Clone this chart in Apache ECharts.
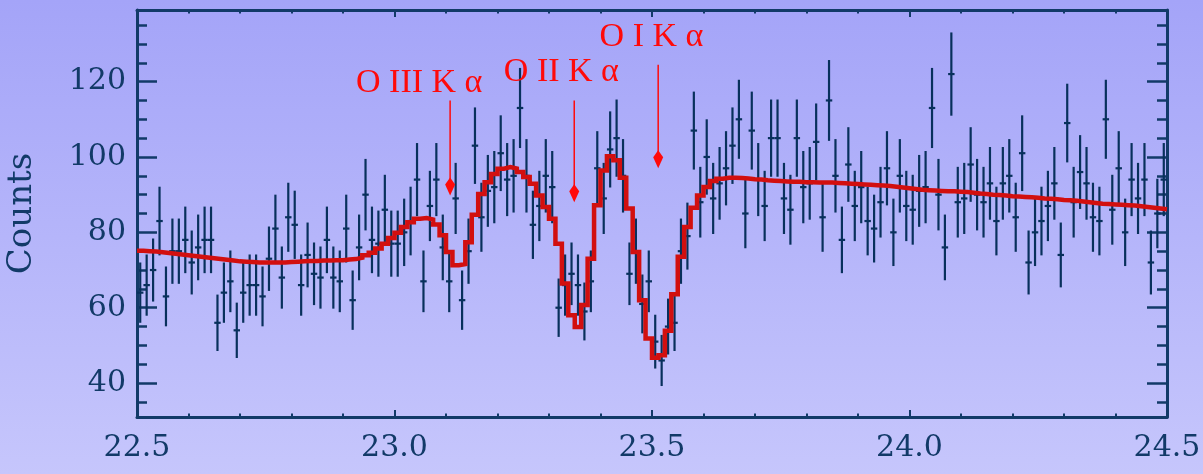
<!DOCTYPE html>
<html>
<head>
<meta charset="utf-8">
<title>O K-edge spectrum</title>
<script src="https://cdn.jsdelivr.net/npm/echarts@6/dist/echarts.min.js"></script>
<style>
  html, body { margin: 0; padding: 0; }
  #chart { width: 1203px; height: 474px; }
</style>
</head>
<body>
<div id="chart"></div>
<script>
// wavelength bins (Angstrom)
const binStart = 22.5
const binWidth = 0.0125

// observed counts per bin
const counts = [
  64, 66, 70, 83, 63, 75, 75, 78, 72, 76, 78, 78, 56, 64, 67, 54, 64, 66, 66, 63,
  73, 81, 68, 84, 82, 66, 74, 69, 68, 78, 68, 67, 81, 62, 76, 90, 78, 77, 86, 77,
  77, 80, 83, 94, 67, 87, 94, 76, 67, 89, 62, 75, 103, 84, 91, 92, 101, 94, 95, 113,
  95, 82, 87, 95, 92, 60, 66, 69, 66, 59, 67, 97, 89, 102, 105, 95, 69, 75, 61, 67,
  51, 46, 55, 56, 75, 79, 107, 88, 100, 89, 93, 97, 103, 110, 85, 107, 94, 87, 105, 105,
  89, 86, 105, 92, 93, 104, 84, 115, 95, 78, 98, 87, 92, 83, 81, 88, 97, 80, 95, 87,
  86, 91, 92, 113, 90, 76, 122, 88, 89, 98, 90, 88, 93, 83, 93, 95, 84, 101, 72, 80,
  83, 87, 93, 74, 109, 88, 96, 93, 84, 83, 110, 86, 97, 80, 94, 89, 94, 72, 85, 94,
]

// best-fit model per bin
const model = [
  75.1, 75.0, 74.9, 74.7, 74.5, 74.3, 74.1, 73.9, 73.7, 73.5, 73.3, 73.1, 72.9, 72.7, 72.5, 72.3, 72.2, 72.1, 72.0, 72.0,
  72.0, 72.0, 72.0, 72.1, 72.2, 72.3, 72.4, 72.4, 72.5, 72.5, 72.6, 72.6, 72.8, 72.9, 73.3, 73.9, 74.6, 75.7, 77.0, 78.5,
  79.9, 81.4, 82.7, 83.6, 83.8, 83.4, 82.1, 79.2, 74.8, 71.3, 71.6, 77.4, 84.7, 90.2, 93.3, 95.5, 96.9, 97.3, 96.9, 96.0,
  94.7, 92.9, 89.8, 86.7, 83.6, 77.0, 66.4, 58.0, 54.9, 60.7, 73.0, 87.2, 96.4, 100.2, 99.1, 94.5, 86.3, 74.8, 62.0, 51.8,
  46.7, 47.4, 53.9, 63.6, 73.5, 81.4, 86.5, 89.8, 92.0, 93.6, 94.2, 94.5, 94.5, 94.4, 94.3, 94.1, 94.0, 93.8, 93.7, 93.6,
  93.5, 93.4, 93.4, 93.3, 93.3, 93.2, 93.2, 93.2, 93.1, 93.0, 92.9, 92.8, 92.7, 92.6, 92.5, 92.4, 92.3, 92.1, 91.9, 91.7,
  91.5, 91.3, 91.2, 91.1, 91.0, 90.9, 90.9, 90.8, 90.7, 90.5, 90.3, 90.2, 90.0, 89.9, 89.8, 89.6, 89.5, 89.4, 89.3, 89.2,
  89.0, 88.9, 88.8, 88.6, 88.5, 88.4, 88.2, 88.0, 87.8, 87.6, 87.5, 87.4, 87.3, 87.2, 87.1, 86.9, 86.7, 86.5, 86.3, 86.1,
]

const xTickLabels = [22.5, 23.0, 23.5, 24.0, 24.5]
const yTickLabels = [40, 60, 80, 100, 120]

// absorption line markers
const lineNames = ['O III K α', 'O II K α', 'O I K α']
const lineWaves = [23.108, 23.349, 23.512]
const arrowTops = [115, 115, 124.5]
const arrowTips = [89.8, 88, 97]
const labelWaves = [23.048, 23.324, 23.499]
const labelCounts = [119.7, 122.6, 131.7]

const NAVY = '#123a68'
const BAR = '#08305c'
const MODEL_RED = '#d20f0f'
const LABEL_RED = '#ff0a0a'
const SERIF = "'DejaVu Serif', serif"

const xMinor = []
for (let k = 0; k <= 20; k++) xMinor.push(+(22.5 + k * 0.1).toFixed(1))
const yMinor = []
for (let v = 35; v <= 135; v += 5) yMinor.push(v)

const points = counts.map((c, i) => [binStart + binWidth * (i + 0.5), c])
const modelEdges = []
model.forEach((m, i) => {
  modelEdges.push([binStart + binWidth * i, m])
  modelEdges.push([binStart + binWidth * (i + 1), m])
})
const markers = lineNames.map((n, i) => [lineWaves[i], arrowTops[i], arrowTips[i], labelWaves[i], labelCounts[i]])

function xAxisOf(position, ticks, len, withLine, withLabels) {
  return {
    type: 'value', min: 22.5, max: 24.5, position,
    axisLine: { show: withLine, onZero: false, lineStyle: { color: NAVY, width: 3 } },
    axisTick: { show: true, inside: true, length: len, customValues: ticks, lineStyle: { color: NAVY, width: 2 } },
    axisLabel: withLabels
      ? { show: true, customValues: xTickLabels, formatter: v => v.toFixed(1), margin: 16,
          fontFamily: SERIF, fontSize: 30, color: NAVY }
      : { show: false },
    splitLine: { show: false },
  }
}

function yAxisOf(position, ticks, len, withLine, withLabels) {
  const ax = {
    type: 'value', min: 31, max: 139, position,
    axisLine: { show: withLine, onZero: false, lineStyle: { color: NAVY, width: 3 } },
    axisTick: { show: true, inside: true, length: len, customValues: ticks, lineStyle: { color: NAVY, width: 2.5 } },
    axisLabel: withLabels
      ? { show: true, customValues: yTickLabels, margin: 11, fontFamily: SERIF, fontSize: 30, color: NAVY }
      : { show: false },
    splitLine: { show: false },
  }
  if (withLabels) {
    Object.assign(ax, {
      name: 'Counts', nameLocation: 'middle', nameRotate: 90, nameGap: 98,
      nameTextStyle: { fontFamily: SERIF, fontSize: 34, color: NAVY },
    })
  }
  return ax
}

const chart = echarts.init(document.getElementById('chart'))
chart.setOption({
  animation: false,
  backgroundColor: {
    type: 'linear', x: 0, y: 0, x2: 0, y2: 1,
    colorStops: [{ offset: 0, color: '#a4a4f8' }, { offset: 1, color: '#c6c6fc' }],
  },
  grid: { left: 137, right: 36, top: 10, bottom: 57, containLabel: false, outerBoundsMode: 'none' },
  xAxis: [
    xAxisOf('bottom', xTickLabels, 7, true, true),
    xAxisOf('bottom', xMinor, 3.5, false, false),
    xAxisOf('top', xTickLabels, 7, true, false),
    xAxisOf('top', xMinor, 3.5, false, false),
  ],
  yAxis: [
    yAxisOf('left', yTickLabels, 20, true, true),
    yAxisOf('left', yMinor, 10, false, false),
    yAxisOf('right', yTickLabels, 20, true, false),
    yAxisOf('right', yMinor, 10, false, false),
  ],
  series: [
    {
      type: 'custom',
      name: 'data',
      z: 2,
      data: points,
      renderItem(params, api) {
        const x = api.value(0)
        const v = api.value(1)
        const err = Math.sqrt(v)
        const hi = api.coord([x, v + err])
        const lo = api.coord([x, v - err])
        const l = api.coord([x - binWidth / 2, v])
        const r = api.coord([x + binWidth / 2, v])
        const style = { stroke: BAR, lineWidth: 2.2 }
        return {
          type: 'group',
          children: [
            { type: 'line', shape: { x1: hi[0], y1: hi[1], x2: lo[0], y2: lo[1] }, style },
            { type: 'line', shape: { x1: l[0], y1: l[1], x2: r[0], y2: r[1] }, style },
          ],
        }
      },
    },
    {
      type: 'line',
      name: 'model',
      z: 3,
      data: modelEdges,
      showSymbol: false,
      symbol: 'none',
      lineStyle: { color: MODEL_RED, width: 4.5, join: 'miter' },
    },
    {
      type: 'custom',
      name: 'lines',
      z: 4,
      clip: false,
      data: markers,
      renderItem(params, api) {
        const top = api.coord([api.value(0), api.value(1)])
        const tip = api.coord([api.value(0), api.value(2)])
        const lab = api.coord([api.value(3), api.value(4)])
        const x = tip[0]
        return {
          type: 'group',
          children: [
            { type: 'line', shape: { x1: x, y1: top[1], x2: x, y2: tip[1] - 16 },
              style: { stroke: LABEL_RED, lineWidth: 1.5 } },
            { type: 'polygon',
              shape: { points: [[x, tip[1] - 18], [x + 5, tip[1] - 11], [x, tip[1]], [x - 5, tip[1] - 11]] },
              style: { fill: LABEL_RED } },
            { type: 'text', x: lab[0], y: lab[1],
              style: { text: lineNames[params.dataIndex], fill: LABEL_RED, align: 'center', verticalAlign: 'middle',
                       font: "34px 'Liberation Serif', serif" } },
          ],
        }
      },
    },
  ],
})
</script>
</body>
</html>
